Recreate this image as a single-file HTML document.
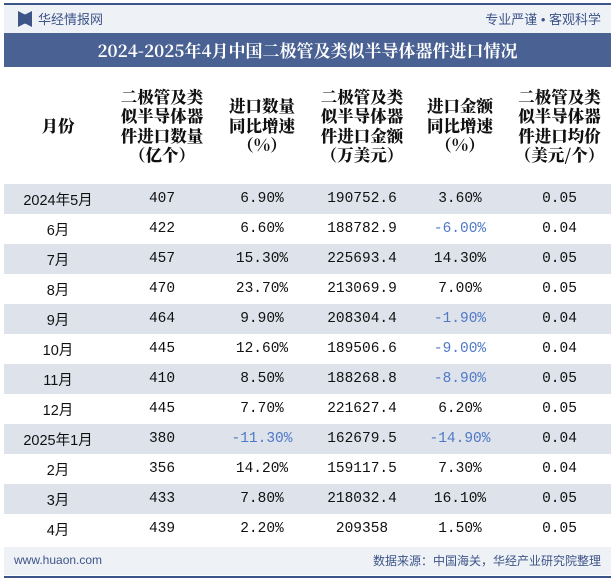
<!DOCTYPE html>
<html><head><meta charset="utf-8">
<style>
body{margin:0;width:615px;height:580px;background:#fff;position:relative;overflow:hidden;font-family:"Liberation Sans","Noto Sans CJK SC",sans-serif}
.abs{position:absolute}
#topline{left:4px;top:3px;width:607px;height:2px;background:#3d5488}
#brand{left:4px;top:5px;width:607px;height:28px;background:#eef1f6}
#title{left:4px;top:33px;width:607px;height:34px;background:#4a6193;color:#fff;font-family:"Noto Serif CJK SC",serif;font-weight:bold;font-size:17px;line-height:34px;text-align:center}
table{position:absolute;left:4px;top:67px;width:607px;border-collapse:collapse;font-size:14px}
th{height:117px;font-family:"Noto Serif CJK SC",serif;font-weight:900;font-size:16.5px;line-height:19.5px;color:#111;padding:0}
td{height:30px;padding:0;text-align:center;color:#111;font-family:"Liberation Mono","Noto Serif CJK SC",monospace;font-size:14.5px}
tr.g td{background:#dde2eb}
td.n{color:#4f79c7}
#footer{left:4px;top:547px;width:607px;height:28px;background:#eef1f6}
#botline{left:4px;top:576px;width:607px;height:2px;background:#3d5488}
</style></head><body>
<div class="abs" id="topline"></div>
<div class="abs" id="brand">
 <div class="abs" style="left:14px;top:6px;width:14px;height:16px;background:#3d5488;clip-path:polygon(0 0,45% 20%,55% 20%,100% 0,100% 100%,55% 80%,45% 80%,0 100%)"></div>
 <div class="abs" style="left:34px;top:4px;font-size:13px;color:#3d5488">华经情报网</div>
 <div class="abs" style="right:10px;top:4px;font-size:13px;color:#3d5488">专业严谨 • 客观科学</div>
</div>
<div class="abs" id="title">2024-2025年4月中国二极管及类似半导体器件进口情况</div>
<table>
<tr>
<th style="width:108px">月份</th>
<th style="width:100px">二极管及类<br>似半导体器<br>件进口数量<br>（亿个）</th>
<th style="width:100px">进口数量<br>同比增速<br>（%）</th>
<th style="width:100px">二极管及类<br>似半导体器<br>件进口金额<br>（万美元）</th>
<th style="width:96px">进口金额<br>同比增速<br>（%）</th>
<th>二极管及类<br>似半导体器<br>件进口均价<br>（美元/个）</th>
</tr>
<tbody id="tb"></tbody>
</table>
<div class="abs" id="footer">
 <div class="abs" style="left:10px;top:6px;font-size:12px;color:#3d5488">www.huaon.com</div>
 <div class="abs" style="right:10px;top:5px;font-size:12px;color:#3d5488">数据来源：中国海关，华经产业研究院整理</div>
</div>
<div class="abs" id="botline"></div>
<script>
const months=["2024年5月","6月","7月","8月","9月","10月","11月","12月","2025年1月","2月","3月","4月"];
const qty=["407","422","457","470","464","445","410","445","380","356","433","439"];
const qtyYoy=["6.90%","6.60%","15.30%","23.70%","9.90%","12.60%","8.50%","7.70%","-11.30%","14.20%","7.80%","2.20%"];
const amt=["190752.6","188782.9","225693.4","213069.9","208304.4","189506.6","188268.8","221627.4","162679.5","159117.5","218032.4","209358"];
const amtYoy=["3.60%","-6.00%","14.30%","7.00%","-1.90%","-9.00%","-8.90%","6.20%","-14.90%","7.30%","16.10%","1.50%"];
const price=["0.05","0.04","0.05","0.05","0.04","0.04","0.05","0.05","0.04","0.04","0.05","0.05"];
const tb=document.getElementById('tb');
months.forEach((m,i)=>{
 const tr=document.createElement('tr');
 
 
 if(i%2===0)tr.className='g';
 [m,qty[i],qtyYoy[i],amt[i],amtYoy[i],price[i]].forEach((v,j)=>{
  const td=document.createElement('td');
  
  
  td.textContent=v;
  if(j===0)td.style.fontFamily='"Liberation Sans","Noto Sans CJK SC",sans-serif';
  if(String(v).startsWith('-'))td.className='n';
  tr.appendChild(td);
 });
 tb.appendChild(tr);
});
</script>
</body></html>
